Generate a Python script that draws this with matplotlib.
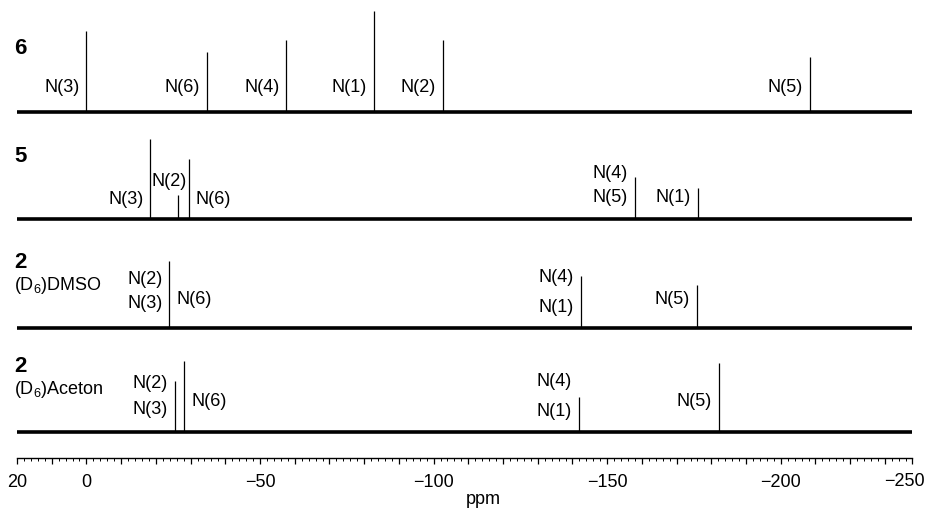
import matplotlib
matplotlib.use("Agg")
import matplotlib.pyplot as plt
from matplotlib.ticker import FixedLocator, MultipleLocator, FuncFormatter

plt.rcParams['font.family'] = ['Liberation Sans', 'DejaVu Sans']
plt.rcParams['mathtext.fontset'] = 'custom'
plt.rcParams['mathtext.rm'] = 'Liberation Sans'
plt.rcParams['mathtext.it'] = 'Liberation Sans:italic'
plt.rcParams['mathtext.bf'] = 'Liberation Sans:bold'

# ---- data (chemical shifts in ppm, relative peak intensities) ----
compounds = ['6', '5', '2', '2']
solvents = ['', '', '(D$_6$)DMSO', '(D$_6$)Aceton']

shifts_6 = [0.0, -34.6, -57.6, -82.7, -102.6, -208.4]
int_6 = [81, 60, 72, 101, 72, 55]

shifts_5 = [-18.4, -26.5, -29.4, -157.9, -176.1]
int_5 = [80, 24, 60, 42, 31]

shifts_2d = [-23.9, -142.4, -175.8]
int_2d = [67, 52, 43]

shifts_2a = [-25.4, -28.2, -141.8, -182.1]
int_2a = [51, 71, 35, 69]

# peak labels: (text, shift of the peak they refer to)
labels_6 = [('N(3)', 0.0), ('N(6)', -34.6), ('N(4)', -57.6),
            ('N(1)', -82.7), ('N(2)', -102.6), ('N(5)', -208.4)]
labels_5 = [('N(3)', -18.4), ('N(2)', -23.9), ('N(6)', -29.4),
            ('N(4)', -157.9), ('N(5)', -157.9), ('N(1)', -176.1)]
labels_2d = [('N(2)', -23.9), ('N(3)', -23.9), ('N(6)', -23.9),
             ('N(4)', -142.4), ('N(1)', -142.4), ('N(5)', -175.8)]
labels_2a = [('N(2)', -25.4), ('N(3)', -25.4), ('N(6)', -28.2),
             ('N(4)', -141.8), ('N(1)', -141.8), ('N(5)', -182.1)]

tick_labels = {20: '20', 0: '0', -50: '\u221250', -100: '\u2212100',
               -150: '\u2212150', -200: '\u2212200'}
end_label = '\u2212250'

# ---- layout ----
W, H = 927, 518
fig = plt.figure(figsize=(W / 100, H / 100), dpi=100)
axis_px = 458
ax = fig.add_axes([17 / W, (H - axis_px) / H, (912 - 17) / W, axis_px / H])
xmin, xmax = 20, -237.8
ax.set_xlim(xmin, xmax)
ax.set_ylim(0, axis_px)

baselines_px = [112, 219, 328, 432]
offsets = [axis_px - b for b in baselines_px]

spectra = [(shifts_6, int_6, labels_6), (shifts_5, int_5, labels_5),
           (shifts_2d, int_2d, labels_2d), (shifts_2a, int_2a, labels_2a)]

# label layout per spectrum: (side, dy above baseline in px)
label_layout = [
    [('r', 25), ('r', 25), ('r', 25), ('r', 25), ('r', 25), ('r', 25)],
    [('r', 19), ('c', 37), ('l', 19), ('r', 46), ('r', 21), ('r', 21)],
    [('r', 49), ('r', 25), ('l', 28), ('r', 50), ('r', 21), ('r', 29)],
    [('r', 49), ('r', 22), ('l', 30), ('r', 50), ('r', 20), ('r', 30)],
]

for (sh, it, lab), off, lay in zip(spectra, offsets, label_layout):
    ax.plot([xmin, xmax], [off, off], color='black', lw=2.6,
            solid_capstyle='butt', zorder=2)
    ax.vlines(sh, off, [off + v for v in it], color='black', lw=0.9, zorder=3)
    for (txt, x), (side, dy) in zip(lab, lay):
        if side == 'r':
            ax.annotate(txt, (x, off + dy), xytext=(-5, 0),
                        textcoords='offset points', ha='right', va='center',
                        fontsize=13)
        elif side == 'l':
            ax.annotate(txt, (x, off + dy), xytext=(5, 0),
                        textcoords='offset points', ha='left', va='center',
                        fontsize=13)
        else:
            ax.annotate(txt, (x, off + dy), ha='center', va='center',
                        fontsize=13)

# compound / solvent labels
name_y = [49, 157, 263, 367]
for name, solv, y in zip(compounds, solvents, name_y):
    fig.text(14 / W, 1 - y / H, name, fontsize=16, fontweight='bold',
             ha='left', va='center')
    if solv:
        fig.text(14 / W, 1 - (y + 22) / H, solv, fontsize=13,
                 ha='left', va='center')

# axis styling
for s in ['top', 'left', 'right']:
    ax.spines[s].set_visible(False)
ax.spines['bottom'].set_linewidth(1.0)
ax.set_yticks([])
major_pos = list(range(20, -231, -10)) + [xmax]
ax.xaxis.set_major_locator(FixedLocator(major_pos))
ax.xaxis.set_minor_locator(MultipleLocator(2))


def fmt(v, pos):
    iv = int(round(v))
    return tick_labels.get(iv, '') if abs(v - iv) < 0.01 else ''


ax.xaxis.set_major_formatter(FuncFormatter(fmt))
ax.tick_params(axis='x', which='major', length=4.5, width=0.9,
               labelsize=13, pad=7)
ax.tick_params(axis='x', which='minor', length=2.5, width=0.7)
# end-of-axis label, kept inside the figure
fig.text(925 / W, 1 - 481 / H, end_label, fontsize=13, ha='right',
         va='center')
fig.text(483 / W, 1 - 500 / H, 'ppm', fontsize=13, ha='center', va='center')

fig.savefig('out.png', dpi=100)
